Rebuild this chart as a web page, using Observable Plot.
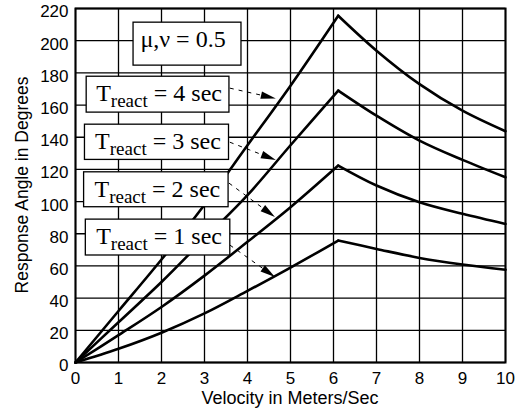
<!DOCTYPE html>
<html>
<head>
<meta charset="utf-8">
<script src="https://cdn.jsdelivr.net/npm/d3@7"></script>
<script src="https://cdn.jsdelivr.net/npm/@observablehq/plot@0.6"></script>
<style>
  html, body { margin: 0; padding: 0; background: white; }
</style>
</head>
<body>
<div id="chart"></div>
<script>
// ---- data ----
const velocity = [0, 1, 2, 3, 4, 5, 6.11, 7, 8, 9, 10];
const react1 = [0, 8.5, 18.5, 30.5, 44.5, 59, 75.8, 70.6, 65, 60.9, 57.6];
const react2 = [0, 17, 34.5, 54, 75, 96.5, 122.4, 110, 99.6, 92.4, 86.1];
const react3 = [0, 25, 50, 77, 104, 135, 169, 153.4, 137.9, 125.9, 115.1];
const react4 = [0, 32, 64, 98, 135, 172, 215.5, 193.8, 173, 156.5, 143.7];
const reactTimes = [1, 2, 3, 4];
const xTicks = [0, 1, 2, 3, 4, 5, 6, 7, 8, 9, 10];
const yTicks = [0, 20, 40, 60, 80, 100, 120, 140, 160, 180, 200, 220];
const xTitle = "Velocity in Meters/Sec";
const yTitle = "Response Angle in Degrees";
const peakIndex = 6;

const series = [react1, react2, react3, react4];
const rows = [];
series.forEach((vals, s) => {
  vals.forEach((v, i) => {
    if (i <= peakIndex) rows.push({x: velocity[i], y: v, z: `${reactTimes[s]}-up`});
    if (i >= peakIndex) rows.push({x: velocity[i], y: v, z: `${reactTimes[s]}-down`});
  });
});

const chart = Plot.plot({
  width: 521,
  height: 415,
  marginLeft: 75,
  marginRight: 16,
  marginTop: 8,
  marginBottom: 53,
  style: {fontFamily: "'Liberation Sans', Arial, sans-serif", fontSize: "17px", background: "white", color: "black"},
  x: {domain: [0, 10]},
  y: {domain: [0, 220]},
  marks: [
    Plot.gridX(xTicks, {stroke: "black", strokeOpacity: 1, strokeWidth: 1.3}),
    Plot.gridY(yTicks, {stroke: "black", strokeOpacity: 1, strokeWidth: 1.3}),
    Plot.axisX(xTicks, {tickSize: 0, tickPadding: 9, label: null, fontSize: 17}),
    Plot.axisY(yTicks, {tickSize: 0, tickPadding: 7, label: null, fontSize: 17, dy: 3.5}),
    Plot.line(rows, {x: "x", y: "y", z: "z", curve: "catmull-rom", stroke: "black", strokeWidth: 2.6}),
    Plot.frame({stroke: "black", strokeWidth: 2})
  ]
});

// ---- annotations (titles, boxes and arrows), placed via the chart's scales ----
const sx = chart.scale("x"), sy = chart.scale("y");
const X = v => sx.apply(v), Y = v => sy.apply(v);
const svg = d3.select(chart);

// axis titles
const titles = svg.append("g").attr("font-family", "'Liberation Sans', Arial, sans-serif").attr("fill", "black");
titles.append("text")
  .attr("x", (X(0) + X(10)) / 2).attr("y", Y(0) + 41.5)
  .attr("text-anchor", "middle")
  .attr("font-size", 18)
  .text(xTitle);
titles.append("text")
  .attr("transform", `translate(${X(0) - 47},${(Y(0) + Y(220)) / 2}) rotate(-90)`)
  .attr("text-anchor", "middle")
  .attr("font-size", 17.5)
  .text(yTitle);

const g = svg.append("g").attr("font-family", "'Liberation Serif', 'Times New Roman', serif").attr("fill", "black");

// label boxes in data coordinates: [x1, x2, yTop, yBottom]
const muBox = [1.35, 3.86, 211.2, 184.5];
const tBoxes = [
  {t: 4, box: [0.26, 3.58, 177.6, 155.3], arrow: [3.60, 170.2, 4.67, 163.8]},
  {t: 3, box: [0.22, 3.57, 147.8, 125.9], arrow: [3.60, 136.6, 4.67, 125.5]},
  {t: 2, box: [0.20, 3.56, 118.2, 96.5], arrow: [3.58, 111.2, 4.65, 90.1]},
  {t: 1, box: [0.24, 3.60, 88.8, 66.5], arrow: [3.60, 72.7, 4.65, 52.8]}
];

function drawBox(b) {
  g.append("rect")
    .attr("x", X(b[0])).attr("y", Y(b[2]))
    .attr("width", X(b[1]) - X(b[0])).attr("height", Y(b[3]) - Y(b[2]))
    .attr("fill", "white").attr("stroke", "black").attr("stroke-width", 1.3);
}

drawBox(muBox);
g.append("text")
  .attr("x", (X(muBox[0]) + X(muBox[1])) / 2 - 4)
  .attr("y", Y(muBox[2]) + 25)
  .attr("text-anchor", "middle")
  .attr("font-size", 24)
  .text("\u03bc,\u03bd = 0.5");

tBoxes.forEach(d => {
  const [ax1, ay1, ax2, ay2] = d.arrow;
  const x1 = X(ax1), y1 = Y(ay1), x2 = X(ax2), y2 = Y(ay2);
  const ang = Math.atan2(y2 - y1, x2 - x1);
  const L = 15, W = 3.8;
  const bx = x2 - L * Math.cos(ang), by = y2 - L * Math.sin(ang);
  g.append("line")
    .attr("x1", x1).attr("y1", y1).attr("x2", bx).attr("y2", by)
    .attr("stroke", "black").attr("stroke-width", 1).attr("stroke-dasharray", "4,5");
  g.append("polygon")
    .attr("points", [
      [x2, y2],
      [bx + W * Math.sin(ang), by - W * Math.cos(ang)],
      [bx - W * Math.sin(ang), by + W * Math.cos(ang)]
    ].map(p => p.join(",")).join(" "))
    .attr("fill", "black");

  drawBox(d.box);
  const txt = g.append("text")
    .attr("x", (X(d.box[0]) + X(d.box[1])) / 2 + 1.5)
    .attr("y", Y(d.box[2]) + 24.7)
    .attr("text-anchor", "middle")
    .attr("font-size", 24);
  txt.append("tspan").text("T");
  txt.append("tspan").attr("font-size", 19).attr("dy", 6.5).text("react");
  txt.append("tspan").attr("dy", -6.5).text(` = ${d.t} sec`);
});

document.getElementById("chart").appendChild(chart);
</script>
</body>
</html>
